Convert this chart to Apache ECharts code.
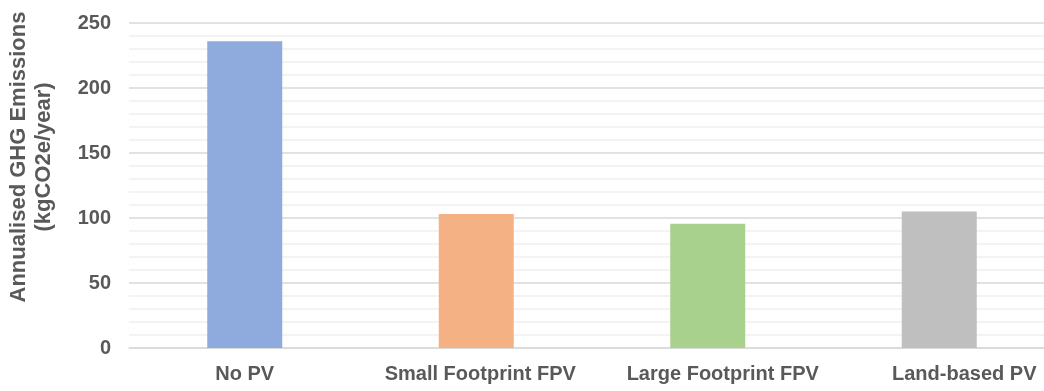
<!DOCTYPE html>
<html>
<head>
<meta charset="utf-8">
<script src="https://cdn.jsdelivr.net/npm/echarts@6/dist/echarts.min.js"></script>
<style>
  html, body { margin: 0; padding: 0; background: #fff; overflow: hidden; }
  /* canvas is a bit wider than the window so the last category runs off the edge */
  #chart { width: 1056px; height: 391px; }
</style>
</head>
<body>
<div id="chart"></div>
<script>
// Annualised GHG emissions per system configuration
const categories = ['No PV', 'Small Footprint FPV', 'Large Footprint FPV', 'Land-based PV'];
const emissions = [236, 103, 95.5, 105];
const yTicks = { min: 0, max: 250, interval: 50 };

const barColors = ['#8FAADC', '#F4B183', '#A9D18E', '#BFBFBF'];
const textColor = '#595959';
const fontFamily = '"Liberation Sans", Arial, sans-serif';
// category labels drift slightly right of their bars (px)
const labelShift = [0, 4, 15, 25];

const chart = echarts.init(document.getElementById('chart'), null, { renderer: 'canvas' });

chart.setOption({
  animation: false,
  backgroundColor: '#ffffff',
  grid: { left: 129, right: 1, top: 23, bottom: 43, containLabel: false },
  xAxis: {
    type: 'category',
    data: categories.map((c, i) => ({
      value: c,
      textStyle: { padding: [0, 0, 0, labelShift[i] * 2] }
    })),
    axisTick: { show: false },
    axisLine: { show: true, lineStyle: { color: '#d9d9d9', width: 1.5 } },
    axisLabel: {
      interval: 0,
      color: textColor, fontFamily, fontWeight: 'bold', fontSize: 20, margin: 16
    },
    splitLine: { show: false }
  },
  yAxis: {
    type: 'value',
    min: yTicks.min,
    max: yTicks.max,
    interval: yTicks.interval,
    axisLine: { show: false },
    axisTick: { show: false },
    axisLabel: {
      color: textColor, fontFamily, fontWeight: 'bold', fontSize: 20, margin: 18
    },
    splitLine: { show: true, lineStyle: { color: '#d9d9d9', width: 1.5 } },
    minorTick: { show: false, splitNumber: 5 },
    minorSplitLine: { show: true, lineStyle: { color: '#f0f0f0', width: 1.5 } }
  },
  series: [{
    type: 'bar',
    data: emissions.map((v, i) => ({ value: v, itemStyle: { color: barColors[i] } })),
    barWidth: 75
  }],
  graphic: [{
    type: 'text',
    x: 31,
    y: 157,
    rotation: Math.PI / 2,
    style: {
      text: 'Annualised GHG Emissions\n(kgCO2e/year)',
      fill: textColor,
      font: 'bold 22px "Liberation Sans", Arial, sans-serif',
      align: 'center',
      verticalAlign: 'middle',
      lineHeight: 25
    }
  }]
});
</script>
</body>
</html>
